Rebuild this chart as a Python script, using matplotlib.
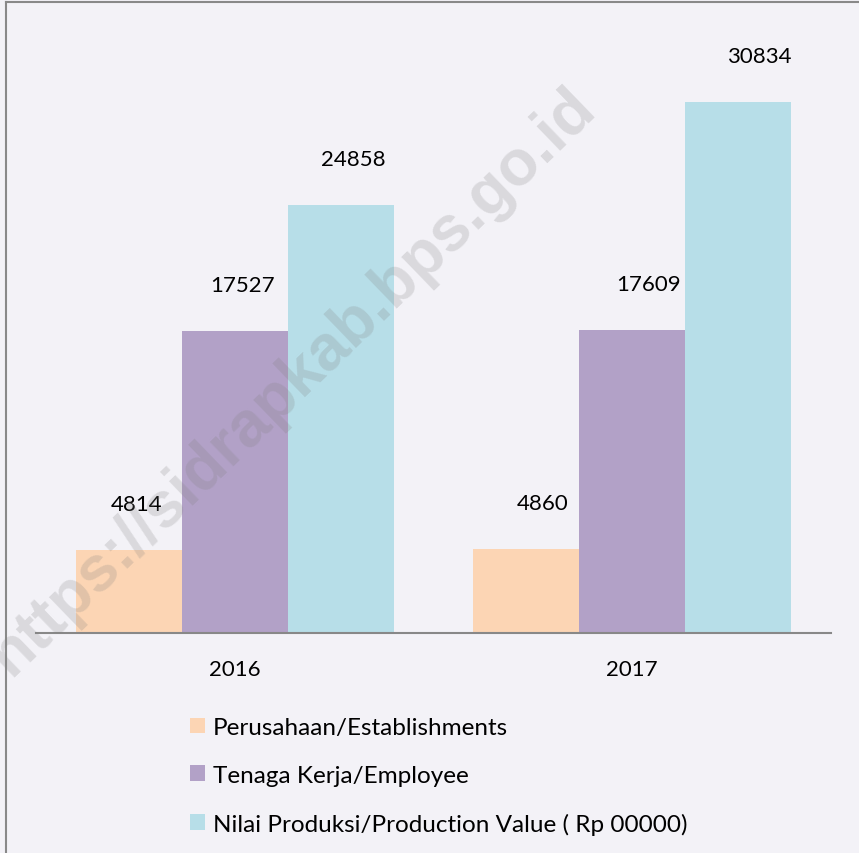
import matplotlib
matplotlib.use("Agg")
import matplotlib.pyplot as plt
import numpy as np
from matplotlib.lines import Line2D

plt.rcParams['font.family'] = ['Lato', 'DejaVu Sans']

# data
years = ['2016', '2017']
series = ['Perusahaan/Establishments',
          'Tenaga Kerja/Employee',
          'Nilai Produksi/Production Value ( Rp 00000)']
perusahaan = [4814, 4860]
tenaga_kerja = [17527, 17609]
nilai_produksi = [24858, 30834]

colors = ['#FCD5B4', '#B2A1C7', '#B7DEE8']
bg = '#F3F2F7'
# label nudge (px) to the right of each bar centre, per year
nudge_x = [[8, 8, 13], [16, 16, 21]]

fig = plt.figure(figsize=(8.59, 8.54), dpi=100, facecolor=bg)
ax = fig.add_axes([36 / 859, 220 / 854, 795 / 859, 602.7 / 854])
ax.set_facecolor(bg)

x = np.arange(len(years))
w = 0.8 / 3
values = [perusahaan, tenaga_kerja, nilai_produksi]
bars = []
for i, (vals, c, name) in enumerate(zip(values, colors, series)):
    b = ax.bar(x + (i - 1) * w, vals, w, color=c, label=name, zorder=2)
    bars.append(b)
    for j, rect in enumerate(b):
        ax.annotate(str(vals[j]),
                    (rect.get_x() + rect.get_width() / 2, rect.get_height()),
                    xytext=(nudge_x[j][i] * 0.72, 33), textcoords='offset points',
                    ha='center', va='center', fontsize=16, color='black')

ax.set_xlim(-0.5, 1.5)
ax.set_ylim(0, 35000)
ax.set_xticks(x)
ax.set_xticklabels(years, fontsize=16)
ax.set_yticks([])
ax.tick_params(axis='x', length=0, pad=19)
for s in ['top', 'right', 'left']:
    ax.spines[s].set_visible(False)
ax.spines['bottom'].set_color('#888888')
ax.spines['bottom'].set_linewidth(1.5)
ax.spines['bottom'].set_zorder(3)

fig.legend(handles=[b[0] for b in bars], labels=series,
           loc='upper left', bbox_to_anchor=(178 / 859, 1 - 706 / 854),
           frameon=False, fontsize=17.5, handlelength=0.62, handleheight=0.62,
           handletextpad=0.3, labelspacing=1.1, borderpad=0)

# watermark
fig.text(292 / 859, 1 - 382 / 854, 'https://sidrapkab.bps.go.id',
         rotation=44, ha='center', va='center', fontsize=46,
         fontweight='bold', family='Liberation Sans',
         color='#808080', alpha=0.22, zorder=10)

# outer frame (left and top edges)
fig.add_artist(Line2D([5.5 / 859, 5.5 / 859], [0, 1 - 2.5 / 854],
                      transform=fig.transFigure, color='#898989', lw=1.5))
fig.add_artist(Line2D([5.5 / 859, 1], [1 - 2.5 / 854, 1 - 2.5 / 854],
                      transform=fig.transFigure, color='#898989', lw=1.5))

fig.savefig('out.png', dpi=100, facecolor=bg)
